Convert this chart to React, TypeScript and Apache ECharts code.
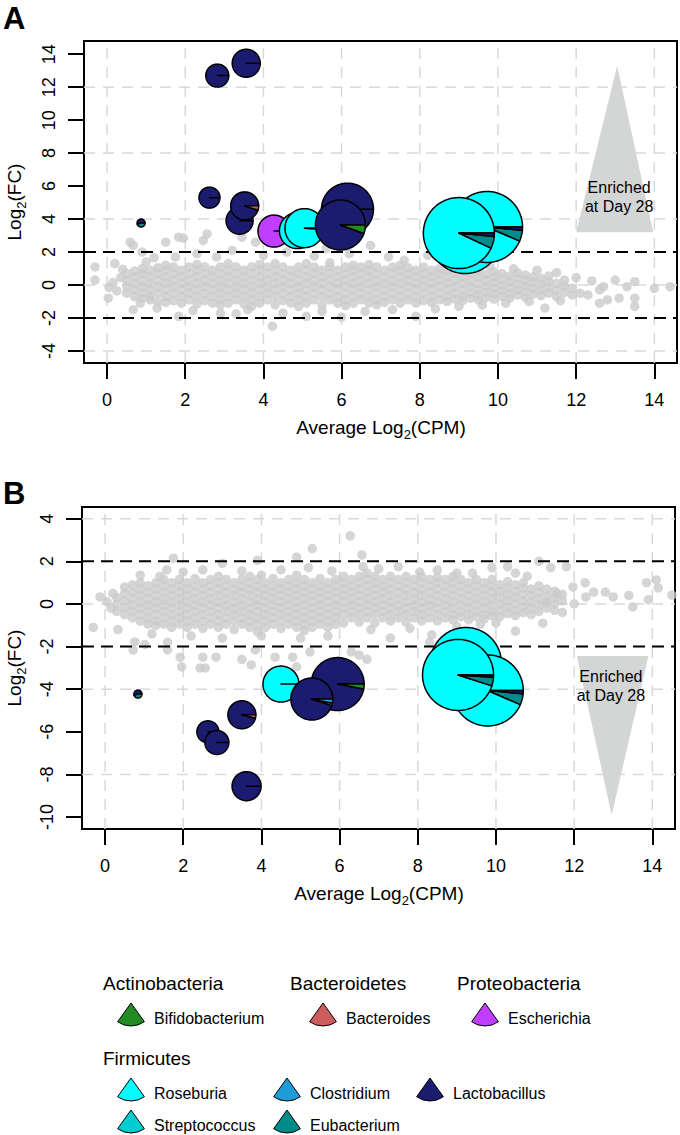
import React, { useEffect, useRef } from "react";
import * as echarts from "echarts";

const FONT = '"Liberation Sans", Arial, Helvetica, sans-serif';

// ---------- axes ----------
const xTickValues = [0, 2, 4, 6, 8, 10, 12, 14];
const yTickValuesA = [-4, -2, 0, 2, 4, 6, 8, 10, 12, 14];
const yTickValuesB = [-10, -8, -6, -4, -2, 0, 2, 4];
const xGridValues = [0, 2, 4, 6, 8, 10, 12, 14];
const yGridValuesA = [-4, 0, 4, 8, 12];
const yGridValuesB = [-8, -4, 0, 4];
const cutoffValues = [-2, 2];
const xRange = [-0.59, 14.58];
const yRangeA = [-4.73, 14.8];
const yRangeB = [-10.56, 4.55];

// ---------- genera / phyla ----------
const phylumNames = ["Actinobacteria", "Bacteroidetes", "Proteobacteria", "Firmicutes"];
const genusNames = ["Bifidobacterium", "Bacteroides", "Escherichia", "Roseburia", "Clostridium", "Lactobacillus", "Streptococcus", "Eubacterium"];
const genusColors: Record<string, string> = {
  Bifidobacterium: "#228b22",
  Bacteroides: "#cd5c5c",
  Escherichia: "#bf3eff",
  Roseburia: "#00ffff",
  Clostridium: "#1e9cd7",
  Lactobacillus: "#1b1b70",
  Streptococcus: "#00ced1",
  Eubacterium: "#008b8b",
};

// ---------- grey gene cloud, panel A: [x, [y values]] ----------
const cloudColumnsA: [number, number[]][] = [
  [0.5, [-0.5, -0.1, 0.3, 0.7]],
  [0.7, [-0.7, -0.3, 0.1, 0.5, 0.85]],
  [0.9, [-0.8, -0.5, -0.1, 0.3, 0.7, 1.0]],
  [1.1, [-0.9, -0.7, -0.3, 0.1, 0.5, 0.9]],
  [1.3, [-1.0, -0.5, -0.1, 0.3, 0.7, 1.05]],
  [1.5, [-1.05, -0.7, -0.3, 0.1, 0.5, 0.9, 1.2]],
  [1.7, [-0.95, -0.5, -0.1, 0.3, 0.7, 1.1]],
  [1.9, [-1.1, -0.7, -0.3, 0.1, 0.5, 0.9]],
  [2.1, [-0.9, -0.5, -0.1, 0.3, 0.7, 1.1]],
  [2.3, [-1.15, -0.7, -0.3, 0.1, 0.5, 0.9, 1.25]],
  [2.5, [-0.95, -0.5, -0.1, 0.3, 0.7, 1.1]],
  [2.7, [-1.1, -0.7, -0.3, 0.1, 0.5, 0.9]],
  [2.9, [-1.2, -0.9, -0.5, -0.1, 0.3, 0.7, 1.1]],
  [3.1, [-1.1, -0.7, -0.3, 0.1, 0.5, 0.9, 1.3]],
  [3.3, [-0.9, -0.5, -0.1, 0.3, 0.7, 1.1]],
  [3.5, [-1.15, -0.7, -0.3, 0.1, 0.5, 0.9]],
  [3.7, [-1.3, -0.9, -0.5, -0.1, 0.3, 0.7, 1.1]],
  [3.9, [-1.1, -0.7, -0.3, 0.1, 0.5, 0.9, 1.25]],
  [4.1, [-0.9, -0.5, -0.1, 0.3, 0.7, 1.1]],
  [4.3, [-1.2, -0.7, -0.3, 0.1, 0.5, 0.9, 1.3]],
  [4.5, [-0.95, -0.5, -0.1, 0.3, 0.7, 1.1]],
  [4.7, [-1.1, -0.7, -0.3, 0.1, 0.5, 0.9]],
  [4.9, [-1.3, -0.9, -0.5, -0.1, 0.3, 0.7, 1.1]],
  [5.1, [-1.1, -0.7, -0.3, 0.1, 0.5, 0.9, 1.3]],
  [5.3, [-0.9, -0.5, -0.1, 0.3, 0.7, 1.1]],
  [5.5, [-1.2, -0.7, -0.3, 0.1, 0.5, 0.9]],
  [5.7, [-0.9, -0.5, -0.1, 0.3, 0.7, 1.1, 1.35]],
  [5.9, [-1.1, -0.7, -0.3, 0.1, 0.5, 0.9]],
  [6.1, [-1.25, -0.9, -0.5, -0.1, 0.3, 0.7, 1.1]],
  [6.3, [-1.1, -0.7, -0.3, 0.1, 0.5, 0.9, 1.2]],
  [6.5, [-0.9, -0.5, -0.1, 0.3, 0.7, 1.1]],
  [6.7, [-1.1, -0.7, -0.3, 0.1, 0.5, 0.9, 1.25]],
  [6.9, [-1.2, -0.9, -0.5, -0.1, 0.3, 0.7, 1.1]],
  [7.1, [-1.05, -0.7, -0.3, 0.1, 0.5, 0.9]],
  [7.3, [-0.9, -0.5, -0.1, 0.3, 0.7, 1.1]],
  [7.5, [-1.1, -0.7, -0.3, 0.1, 0.5, 0.9, 1.2]],
  [7.7, [-0.9, -0.5, -0.1, 0.3, 0.7, 1.05]],
  [7.9, [-1.1, -0.7, -0.3, 0.1, 0.5, 0.9]],
  [8.1, [-0.95, -0.5, -0.1, 0.3, 0.7, 1.1]],
  [8.3, [-1.05, -0.7, -0.3, 0.1, 0.5, 0.9]],
  [8.5, [-0.9, -0.5, -0.1, 0.3, 0.7, 1.0]],
  [8.7, [-1.0, -0.7, -0.3, 0.1, 0.5, 0.9]],
  [8.9, [-0.85, -0.5, -0.1, 0.3, 0.7, 1.0]],
  [9.1, [-0.95, -0.7, -0.3, 0.1, 0.5, 0.85]],
  [9.3, [-0.8, -0.5, -0.1, 0.3, 0.7]],
  [9.5, [-0.9, -0.6, -0.3, 0.1, 0.5, 0.85]],
  [9.7, [-0.75, -0.45, -0.1, 0.3, 0.65]],
  [9.9, [-0.85, -0.5, -0.2, 0.15, 0.5, 0.8]],
  [10.1, [-0.7, -0.35, 0.0, 0.35, 0.7]],
  [10.3, [-0.8, -0.5, -0.15, 0.2, 0.55]],
  [10.5, [-0.6, -0.3, 0.05, 0.4, 0.75]],
  [10.7, [-0.75, -0.4, -0.05, 0.3, 0.6]],
  [10.9, [-0.55, -0.2, 0.15, 0.5]],
  [11.1, [-0.65, -0.3, 0.05, 0.4]],
  [11.3, [-0.5, -0.15, 0.2, 0.55]],
  [11.5, [-0.7, -0.3, 0.1]],
  [11.7, [-0.45, -0.05, 0.3]],
  [11.9, [-0.6, -0.2]],
];
const cloudScatterA: [number, number][] = [
  [-0.31, 1.1], [-0.31, 0.3], [0.03, -0.8], [0.05, -0.15], [0.15, 0.15], [0.25, -0.35], [0.35, 0.45], [0.2, 1.3],
  [0.4, 0.95], [0.59, 2.6], [0.67, 2.4], [0.9, 2.0], [0.67, -1.5], [0.85, -1.1], [1.28, -1.4], [1.0, 1.4], [1.2, 1.65],
  [1.5, 2.6], [1.83, 2.9], [1.95, 2.85], [1.75, 1.7], [1.83, -1.9], [2.2, -1.55], [2.46, 2.7], [2.56, 3.1], [2.3, 1.9],
  [2.8, 1.7], [2.9, -1.7], [3.2, 2.1], [3.45, 2.9], [3.3, -1.75], [3.6, -1.5], [3.8, 2.6], [4.0, 1.8], [4.23, -2.5],
  [4.5, -1.7], [4.6, 2.0], [5.1, -1.9], [5.3, 1.75], [5.6, 2.2], [5.5, -1.6], [6.0, -1.95], [6.2, 1.9], [6.6, -1.6],
  [6.74, 2.4], [7.2, 1.7], [7.3, -1.5], [7.6, 1.5], [7.9, -1.9], [8.2, 1.8], [8.4, -1.45], [8.6, 1.4], [9.0, -1.3],
  [9.2, 1.3], [9.6, -1.2], [9.8, 1.15], [10.2, -1.1], [10.4, 1.0], [10.8, -1.0], [11.0, 0.9], [11.2, -1.4], [11.6, -0.95],
  [11.5, 0.75], [12.0, 0.45], [12.1, -0.5], [12.3, -0.6], [12.4, 0.25], [12.6, -1.1], [12.6, -0.3], [12.7, -0.1],
  [12.8, -0.9], [13.0, 0.3], [13.1, -0.8], [13.3, -0.1], [13.5, 0.2], [13.5, -0.8], [13.5, -1.3], [14.0, -0.2], [14.4, -0.1],
];

// ---------- grey gene cloud, panel B ----------
const cloudColumnsB: [number, number[]][] = [
  [0.3, [-0.35, 0.0, 0.3]],
  [0.5, [-0.5, -0.2, 0.15, 0.5, 0.8]],
  [0.7, [-0.65, -0.35, -0.05, 0.25, 0.55, 0.9]],
  [0.9, [-0.8, -0.5, -0.2, 0.1, 0.4, 0.7, 1.0]],
  [1.1, [-0.95, -0.65, -0.35, -0.05, 0.25, 0.55, 0.85]],
  [1.3, [-1.0, -0.8, -0.5, -0.2, 0.1, 0.4, 0.7, 1.0]],
  [1.5, [-0.95, -0.65, -0.35, -0.05, 0.25, 0.55, 0.85, 1.15]],
  [1.7, [-1.1, -0.8, -0.5, -0.2, 0.1, 0.4, 0.7, 1.0]],
  [1.9, [-0.95, -0.65, -0.35, -0.05, 0.25, 0.55, 0.85, 1.15]],
  [2.1, [-1.1, -0.8, -0.5, -0.2, 0.1, 0.4, 0.7, 1.0]],
  [2.3, [-0.95, -0.65, -0.35, -0.05, 0.25, 0.55, 0.85, 1.2]],
  [2.5, [-1.15, -0.8, -0.5, -0.2, 0.1, 0.4, 0.7, 1.0]],
  [2.7, [-0.95, -0.65, -0.35, -0.05, 0.25, 0.55, 0.85, 1.15]],
  [2.9, [-1.1, -0.8, -0.5, -0.2, 0.1, 0.4, 0.7, 1.0, 1.3]],
  [3.1, [-0.95, -0.65, -0.35, -0.05, 0.25, 0.55, 0.85, 1.15]],
  [3.3, [-1.2, -0.8, -0.5, -0.2, 0.1, 0.4, 0.7, 1.0]],
  [3.5, [-0.95, -0.65, -0.35, -0.05, 0.25, 0.55, 0.85, 1.15]],
  [3.7, [-1.1, -0.8, -0.5, -0.2, 0.1, 0.4, 0.7, 1.0, 1.3]],
  [3.9, [-1.3, -0.95, -0.65, -0.35, -0.05, 0.25, 0.55, 0.85, 1.15]],
  [4.1, [-1.1, -0.8, -0.5, -0.2, 0.1, 0.4, 0.7, 1.0]],
  [4.3, [-0.95, -0.65, -0.35, -0.05, 0.25, 0.55, 0.85, 1.2]],
  [4.5, [-1.15, -0.8, -0.5, -0.2, 0.1, 0.4, 0.7, 1.0]],
  [4.7, [-0.95, -0.65, -0.35, -0.05, 0.25, 0.55, 0.85, 1.15]],
  [4.9, [-1.1, -0.8, -0.5, -0.2, 0.1, 0.4, 0.7, 1.0, 1.35]],
  [5.1, [-1.25, -0.95, -0.65, -0.35, -0.05, 0.25, 0.55, 0.85, 1.15]],
  [5.3, [-1.1, -0.8, -0.5, -0.2, 0.1, 0.4, 0.7, 1.0]],
  [5.5, [-0.95, -0.65, -0.35, -0.05, 0.25, 0.55, 0.85, 1.2]],
  [5.7, [-1.1, -0.8, -0.5, -0.2, 0.1, 0.4, 0.7, 1.0]],
  [5.9, [-0.95, -0.65, -0.35, -0.05, 0.25, 0.55, 0.85, 1.15]],
  [6.1, [-0.9, -0.5, -0.2, 0.1, 0.4, 0.7, 1.0, 1.3]],
  [6.3, [-0.65, -0.35, -0.05, 0.25, 0.55, 0.85, 1.15]],
  [6.5, [-0.85, -0.5, -0.2, 0.1, 0.4, 0.7, 1.0, 1.3]],
  [6.7, [-0.65, -0.35, -0.05, 0.25, 0.55, 0.85, 1.15, 1.45]],
  [6.9, [-0.9, -0.5, -0.2, 0.1, 0.4, 0.7, 1.0, 1.3]],
  [7.1, [-0.65, -0.35, -0.05, 0.25, 0.55, 0.85, 1.15]],
  [7.3, [-0.8, -0.5, -0.2, 0.1, 0.4, 0.7, 1.0, 1.3]],
  [7.5, [-0.65, -0.35, -0.05, 0.25, 0.55, 0.85, 1.15]],
  [7.7, [-0.85, -0.5, -0.2, 0.1, 0.4, 0.7, 1.0, 1.3]],
  [7.9, [-0.65, -0.35, -0.05, 0.25, 0.55, 0.85, 1.15]],
  [8.1, [-0.8, -0.5, -0.2, 0.1, 0.4, 0.7, 1.0, 1.3]],
  [8.3, [-0.65, -0.35, -0.05, 0.25, 0.55, 0.85, 1.15]],
  [8.5, [-0.8, -0.5, -0.2, 0.1, 0.4, 0.7, 1.0, 1.25]],
  [8.7, [-0.65, -0.35, -0.05, 0.25, 0.55, 0.85, 1.15]],
  [8.9, [-0.75, -0.5, -0.2, 0.1, 0.4, 0.7, 1.0, 1.3]],
  [9.1, [-0.6, -0.35, -0.05, 0.25, 0.55, 0.85, 1.15]],
  [9.3, [-0.75, -0.5, -0.2, 0.1, 0.4, 0.7, 1.0]],
  [9.5, [-0.6, -0.35, -0.05, 0.25, 0.55, 0.85, 1.15]],
  [9.7, [-0.7, -0.5, -0.2, 0.1, 0.4, 0.7, 1.0]],
  [9.9, [-0.55, -0.35, -0.05, 0.25, 0.55, 0.85, 1.15]],
  [10.1, [-0.6, -0.3, 0.0, 0.3, 0.6, 0.9]],
  [10.3, [-0.45, -0.15, 0.15, 0.45, 0.75, 1.05]],
  [10.5, [-0.55, -0.3, 0.0, 0.3, 0.6, 0.9]],
  [10.7, [-0.4, -0.15, 0.15, 0.45, 0.75, 1.0]],
  [10.9, [-0.5, -0.2, 0.1, 0.4, 0.7]],
  [11.1, [-0.35, -0.05, 0.25, 0.55, 0.85]],
  [11.3, [-0.2, 0.1, 0.4, 0.7]],
  [11.5, [-0.3, 0.0, 0.3, 0.6]],
  [11.7, [0.15, 0.45]],
];
const cloudScatterB: [number, number][] = [
  [-0.13, 0.33], [-0.3, -1.1], [0.05, 0.1], [0.15, -0.2], [0.2, 0.5], [0.33, -1.2], [0.9, 1.35], [1.4, 1.3], [1.58, 1.6],
  [1.75, 2.15], [0.72, -2.16], [0.76, -1.78], [1.02, -1.9], [1.2, -1.4], [1.6, -1.8], [1.6, -2.16], [1.92, -2.5],
  [1.96, -2.95], [2.0, 1.5], [2.2, -1.5], [2.5, 1.6], [2.5, -2.5], [2.56, -3.0], [2.43, -3.0], [2.84, -2.5], [3.0, 1.9],
  [3.0, -1.6], [3.5, 1.55], [3.5, -2.6], [3.74, -2.86], [3.84, -2.16], [3.9, 2.05], [4.0, 1.35], [4.0, -1.5], [4.35, -2.5],
  [4.5, 1.6], [4.8, -2.5], [4.9, -2.95], [4.9, 2.2], [5.0, -1.6], [5.2, 1.7], [5.24, -2.25], [5.3, 2.6], [5.7, -1.5],
  [5.8, 1.55], [6.27, 3.2], [6.3, -2.25], [6.5, -2.4], [6.57, 2.3], [6.6, 1.75], [6.7, -2.6], [6.8, -1.2], [7.0, 1.65],
  [7.3, -1.6], [7.5, 1.75], [7.8, -1.15], [8.05, 1.5], [8.3, -1.8], [8.36, -1.45], [8.5, 1.6], [9.0, -1.05], [9.0, 1.45],
  [9.4, 1.45], [9.6, -0.95], [9.9, 1.7], [10.0, -0.9], [10.3, 1.75], [10.5, 1.45], [10.5, -1.27], [10.8, 1.3], [11.1, 2.0],
  [11.2, -0.9], [11.3, 0.05], [11.4, 1.7], [11.56, 0.5], [11.7, -0.4], [11.8, 1.75], [11.97, 0.8], [12.0, 0.0],
  [12.28, 1.0], [12.3, 0.33], [12.5, 0.56], [12.8, 0.56], [13.0, 0.33], [13.4, 0.4], [13.5, -0.14], [13.85, 1.0],
  [13.9, 0.2], [14.1, 1.13], [14.15, 0.75], [14.5, 0.42],
];

// ---------- differentially abundant genes drawn as genus pies ----------
type Slice = [string, number];
type Pie = { x: number; y: number; size: number; slices: Slice[] };
const piesA: Pie[] = [
  { x: 0.87, y: 3.76, size: 4, slices: [["Lactobacillus", 0.55], ["Eubacterium", 0.45]] },
  { x: 2.62, y: 5.3, size: 10.5, slices: [["Lactobacillus", 1]] },
  { x: 2.82, y: 12.7, size: 11.5, slices: [["Lactobacillus", 1]] },
  { x: 3.56, y: 13.45, size: 14, slices: [["Lactobacillus", 1]] },
  { x: 3.39, y: 3.9, size: 13.5, slices: [["Lactobacillus", 1]] },
  { x: 3.52, y: 4.8, size: 14, slices: [["Lactobacillus", 0.95], ["Bacteroides", 0.05]] },
  { x: 4.27, y: 3.27, size: 16, slices: [["Escherichia", 1]] },
  { x: 4.87, y: 3.3, size: 18, slices: [["Roseburia", 1]] },
  { x: 5.05, y: 3.45, size: 19.5, slices: [["Roseburia", 0.99], ["Lactobacillus", 0.01]] },
  { x: 6.15, y: 4.6, size: 26, slices: [["Lactobacillus", 1]] },
  { x: 5.97, y: 3.64, size: 25, slices: [["Lactobacillus", 0.945], ["Bifidobacterium", 0.055]] },
  { x: 9.16, y: 2.85, size: 35.5, slices: [["Roseburia", 0.93], ["Eubacterium", 0.055], ["Lactobacillus", 0.015]] },
  { x: 9.72, y: 3.52, size: 35.5, slices: [["Roseburia", 0.935], ["Eubacterium", 0.05], ["Lactobacillus", 0.015]] },
  { x: 9.0, y: 3.15, size: 35.5, slices: [["Roseburia", 0.93], ["Eubacterium", 0.055], ["Lactobacillus", 0.015]] },
];
const piesB: Pie[] = [
  { x: 0.84, y: -4.23, size: 4, slices: [["Lactobacillus", 0.55], ["Eubacterium", 0.45]] },
  { x: 2.63, y: -6.0, size: 11, slices: [["Lactobacillus", 1]] },
  { x: 2.86, y: -6.5, size: 12, slices: [["Lactobacillus", 1]] },
  { x: 3.5, y: -5.2, size: 14, slices: [["Lactobacillus", 0.96], ["Bacteroides", 0.04]] },
  { x: 3.62, y: -8.55, size: 14.5, slices: [["Lactobacillus", 1]] },
  { x: 4.5, y: -3.76, size: 18, slices: [["Roseburia", 1]] },
  { x: 5.95, y: -3.76, size: 26.5, slices: [["Lactobacillus", 0.97], ["Bifidobacterium", 0.03]] },
  { x: 5.29, y: -4.46, size: 21, slices: [["Lactobacillus", 0.95], ["Roseburia", 0.017], ["Clostridium", 0.033]] },
  { x: 9.23, y: -2.77, size: 35.5, slices: [["Roseburia", 0.94], ["Eubacterium", 0.045], ["Lactobacillus", 0.015]] },
  { x: 9.79, y: -4.06, size: 35.5, slices: [["Roseburia", 0.935], ["Eubacterium", 0.05], ["Lactobacillus", 0.015]] },
  { x: 9.03, y: -3.33, size: 35.5, slices: [["Roseburia", 0.95], ["Eubacterium", 0.04], ["Lactobacillus", 0.01]] },
];

// ---------- "Enriched at Day 28" arrows ----------
const arrowA: [number, number][] = [[12.0, 3.2], [13.97, 3.2], [13.05, 13.3]];
const arrowB: [number, number][] = [[12.07, -2.44], [13.9, -2.44], [12.96, -9.9]];
const arrowLabel = "Enriched\nat Day 28";
const arrowLabelPosA: [number, number] = [13.1, 5.36];
const arrowLabelPosB: [number, number] = [12.94, -3.85];

function flattenCloud(cols: [number, number[]][], extra: [number, number][]) {
  const pts: [number, number][] = [];
  cols.forEach(([x, ys]) => ys.forEach((y) => pts.push([x, y])));
  return pts.concat(extra);
}

function refLineSeries(gi: number, xs: number[], ys: number[], yRange: number[], stroke: string, width: number, dash: number[], z: number) {
  const data = [...xs.map((v) => [v, 0, 0]), ...ys.map((v) => [0, v, 1])];
  return {
    type: "custom",
    xAxisIndex: gi,
    yAxisIndex: gi,
    z,
    silent: true,
    clip: false,
    data,
    renderItem: (_p: any, api: any) => {
      const kind = api.value(2);
      let p1, p2;
      if (kind === 0) {
        const v = api.value(0);
        p1 = api.coord([v, yRange[0]]);
        p2 = api.coord([v, yRange[1]]);
      } else {
        const v = api.value(1);
        p1 = api.coord([xRange[0], v]);
        p2 = api.coord([xRange[1], v]);
      }
      return {
        type: "line",
        shape: { x1: p1[0], y1: p1[1], x2: p2[0], y2: p2[1] },
        style: { stroke, lineWidth: width, lineDash: dash },
      };
    },
  };
}

function pieSeries(gi: number, pies: Pie[]) {
  return {
    type: "custom",
    xAxisIndex: gi,
    yAxisIndex: gi,
    z: 6,
    silent: true,
    clip: false,
    data: pies.map((p) => [p.x, p.y, p.size]),
    renderItem: (params: any, api: any) => {
      const pie = pies[params.dataIndex];
      const c = api.coord([api.value(0), api.value(1)]);
      const r = api.value(2);
      const children: any[] = [];
      let a0 = 0;
      pie.slices.forEach(([g, f]) => {
        const a1 = a0 + f * Math.PI * 2;
        const n = Math.max(2, Math.ceil((a1 - a0) / (Math.PI / 90)));
        const pts: number[][] = [[c[0], c[1]]];
        for (let i = 0; i <= n; i++) {
          const a = a0 + ((a1 - a0) * i) / n;
          pts.push([c[0] + r * Math.cos(a), c[1] - r * Math.sin(a)]);
        }
        children.push({
          type: "polygon",
          shape: { points: pts },
          style: { fill: genusColors[g], stroke: "#000", lineWidth: 1.5, lineJoin: "round" },
        });
        a0 = a1;
      });
      return { type: "group", children };
    },
  };
}

function arrowSeries(gi: number, tri: [number, number][], labelPos: [number, number]) {
  return {
    type: "custom",
    xAxisIndex: gi,
    yAxisIndex: gi,
    z: 4,
    silent: true,
    clip: false,
    data: tri,
    renderItem: (params: any, api: any) => {
      if (params.dataIndex !== 0) return null;
      const pts = tri.map((p) => api.coord(p));
      const lp = api.coord(labelPos);
      return {
        type: "group",
        children: [
          { type: "polygon", shape: { points: pts }, style: { fill: "#d4d6d6", stroke: "none" } },
          {
            type: "text",
            x: lp[0],
            y: lp[1],
            style: {
              text: arrowLabel,
              fontSize: 16,
              fontFamily: FONT,
              fill: "#000",
              align: "center",
              verticalAlign: "middle",
              lineHeight: 19,
            },
          },
        ],
      };
    },
  };
}

function makeX(gi: number) {
  return {
    type: "value",
    gridIndex: gi,
    min: xRange[0],
    max: xRange[1],
    axisLine: { show: true, onZero: false, lineStyle: { color: "#000", width: 2 } },
    axisTick: { show: true, customValues: xTickValues, length: 16, inside: false, lineStyle: { color: "#000", width: 2 } },
    axisLabel: { show: true, customValues: xTickValues, margin: 28, fontSize: 18, color: "#000", fontFamily: FONT },
    splitLine: { show: false },
  };
}
function makeY(gi: number, range: number[], ticks: number[]) {
  return {
    type: "value",
    gridIndex: gi,
    min: range[0],
    max: range[1],
    axisLine: { show: true, onZero: false, lineStyle: { color: "#000", width: 2 } },
    axisTick: { show: true, customValues: ticks, length: 16, inside: false, lineStyle: { color: "#000", width: 2 } },
    axisLabel: { show: true, customValues: ticks, rotate: 90, margin: 26, fontSize: 18, color: "#000", fontFamily: FONT },
    splitLine: { show: false },
  };
}

function subTitle(main: string, sub: string, rest: string, x: number, y: number, rotation: number) {
  return {
    type: "text",
    x,
    y,
    rotation,
    style: {
      text: `{a|${main}}{s|${sub}}{a|${rest}}`,
      align: "center",
      verticalAlign: "middle",
      fill: "#000",
      rich: {
        a: { fontSize: 19, fontFamily: FONT, lineHeight: 28, verticalAlign: "middle", fill: "#000" },
        s: { fontSize: 13, fontFamily: FONT, lineHeight: 13, verticalAlign: "bottom", fill: "#000" },
      },
    },
  };
}

export default function App() {
  const ref = useRef<HTMLDivElement>(null);
  useEffect(() => {
    if (!ref.current) return;
    const chart = echarts.init(ref.current, undefined, { renderer: "svg", width: 680, height: 1135 });

    const headingPos = [[103, 983], [290, 983], [457, 983], [103, 1058]];
    const iconPos = [[131, 1003], [323, 1003], [485, 1003], [131, 1078], [287, 1078], [430, 1078], [131, 1110], [287, 1110]];

    const graphic: any[] = [
      { type: "text", x: 3, y: 18, style: { text: "A", fontSize: 31, fontWeight: "bold", fontFamily: FONT, fill: "#000", verticalAlign: "middle" } },
      { type: "text", x: 3, y: 493, style: { text: "B", fontSize: 31, fontWeight: "bold", fontFamily: FONT, fill: "#000", verticalAlign: "middle" } },
      subTitle("Average Log", "2", "(CPM)", 381, 427, 0),
      subTitle("Average Log", "2", "(CPM)", 379, 893, 0),
      subTitle("Log", "2", "(FC)", 14, 202, Math.PI / 2),
      subTitle("Log", "2", "(FC)", 14, 668, Math.PI / 2),
    ];
    phylumNames.forEach((p, i) => {
      graphic.push({
        type: "text",
        x: headingPos[i][0],
        y: headingPos[i][1],
        style: { text: p, fontSize: 19, fontFamily: FONT, fill: "#000", align: "left", verticalAlign: "middle" },
      });
    });
    genusNames.forEach((g, i) => {
      const [cx, cy] = iconPos[i];
      graphic.push({
        type: "sector",
        shape: { cx, cy, r: 23, r0: 0, startAngle: Math.PI / 2 - 0.62, endAngle: Math.PI / 2 + 0.62, clockwise: true },
        style: { fill: genusColors[g], stroke: "#000", lineWidth: 1 },
      });
      graphic.push({
        type: "text",
        x: cx + 23,
        y: cy + 15,
        style: { text: g, fontSize: 16, fontFamily: FONT, fill: "#000", align: "left", verticalAlign: "middle" },
      });
    });

    const option: any = {
      animation: false,
      backgroundColor: "#ffffff",
      grid: [
        { left: 84, top: 41, width: 593, height: 322, show: true, borderColor: "#000", borderWidth: 2, backgroundColor: "transparent", containLabel: false, outerBoundsMode: "none" },
        { left: 82, top: 507, width: 593, height: 322, show: true, borderColor: "#000", borderWidth: 2, backgroundColor: "transparent", containLabel: false, outerBoundsMode: "none" },
      ],
      xAxis: [makeX(0), makeX(1)],
      yAxis: [makeY(0, yRangeA, yTickValuesA), makeY(1, yRangeB, yTickValuesB)],
      series: [
        refLineSeries(0, xGridValues, yGridValuesA, yRangeA, "#d9d9d9", 1.5, [11, 8], 1),
        refLineSeries(1, xGridValues, yGridValuesB, yRangeB, "#d9d9d9", 1.5, [11, 8], 1),
        {
          type: "scatter",
          xAxisIndex: 0,
          yAxisIndex: 0,
          z: 2,
          silent: true,
          symbol: "circle",
          symbolSize: 9.5,
          itemStyle: { color: "#cbcbcb", borderWidth: 0 },
          data: flattenCloud(cloudColumnsA, cloudScatterA),
        },
        {
          type: "scatter",
          xAxisIndex: 1,
          yAxisIndex: 1,
          z: 2,
          silent: true,
          symbol: "circle",
          symbolSize: 9.5,
          itemStyle: { color: "#cbcbcb", borderWidth: 0 },
          data: flattenCloud(cloudColumnsB, cloudScatterB),
        },
        refLineSeries(0, [], cutoffValues, yRangeA, "#000", 2, [12, 7], 3),
        refLineSeries(1, [], cutoffValues, yRangeB, "#000", 2, [12, 7], 3),
        arrowSeries(0, arrowA, arrowLabelPosA),
        arrowSeries(1, arrowB, arrowLabelPosB),
        pieSeries(0, piesA),
        pieSeries(1, piesB),
      ],
      graphic,
    };
    chart.setOption(option);
    return () => chart.dispose();
  }, []);
  return <div ref={ref} style={{ position: "absolute", left: 0, top: 0, width: 680, height: 1135 }} />;
}
